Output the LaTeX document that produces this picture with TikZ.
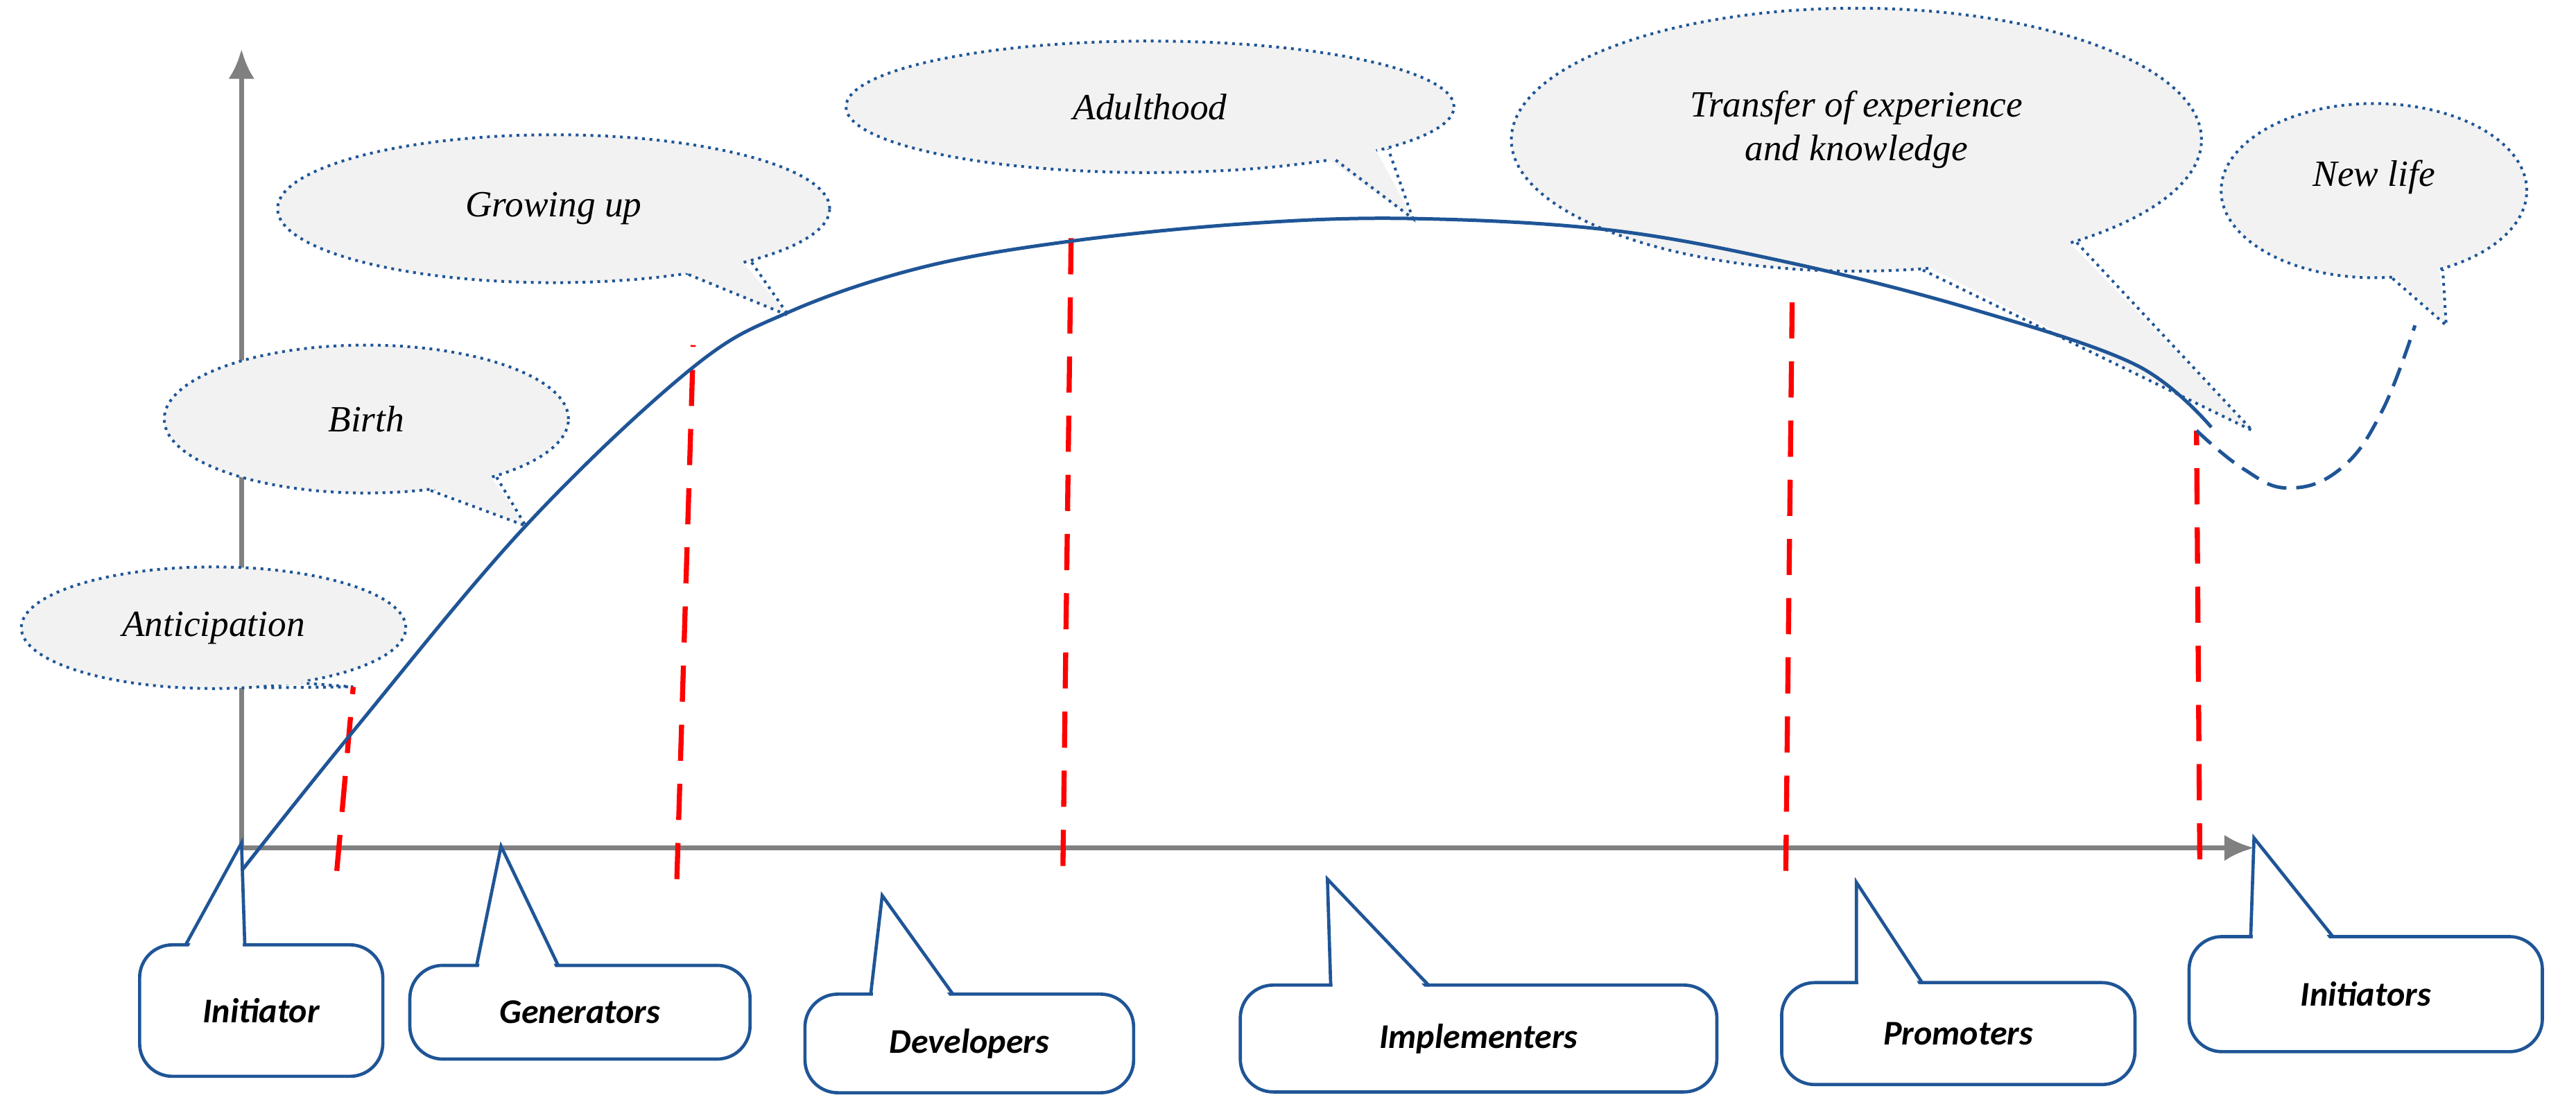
\documentclass[tikz,border=0pt]{standalone}
\usepackage{fontspec}
\setmainfont{Liberation Serif}
\newfontfamily\callfont{Carlito}
\usetikzlibrary{shapes.geometric,calc,arrows.meta}
\definecolor{cblue}{HTML}{1F5596}
\definecolor{bfill}{HTML}{F2F2F2}
\definecolor{axgray}{HTML}{808080}
\begin{document}
\begin{tikzpicture}[x=0.025cm,y=-0.025cm,
  bub/.style={ellipse,fill=bfill,draw=cblue,dotted,line width=1.2pt,inner sep=0pt},
  btext/.style={font=\itshape\fontsize{16}{19}\selectfont,align=center},
  tailline/.style={draw=cblue,dotted,line width=1.2pt},
  call/.style={rectangle,rounded corners=0.5cm,draw=cblue,line width=1.4pt,fill=white,font=\callfont\bfseries\itshape\fontsize{15}{18}\selectfont},
  red/.style={draw=red,line width=2.2pt,dash pattern=on 0.55cm off 0.35cm},
  curve/.style={draw=cblue,line width=1.5pt}]
\useasboundingbox (0,0) rectangle (1568,680);
% axes
\draw[axgray,line width=2.2pt,-{Latex[length=0.45cm,width=0.4cm]}] (147,516) -- (147,30);
\draw[axgray,line width=2.2pt,-{Latex[length=0.45cm,width=0.4cm,open,fill=axgray]}] (147,516) -- (1372,516);
% bubbles
\node[bub,minimum width=5.85cm,minimum height=1.85cm] (ant) at (130,382) {};
\node[bub,minimum width=6.15cm,minimum height=2.25cm] (birth) at (223,255) {};
\node[bub,minimum width=8.4cm,minimum height=2.25cm] (grow) at (337,127) {};
\node[bub,minimum width=9.25cm,minimum height=2.0cm] (adult) at (700,65) {};
\node[bub,minimum width=10.5cm,minimum height=4.0cm] (trans) at (1130,85) {};
\node[bub,minimum width=4.65cm,minimum height=2.65cm] (newl) at (1445,116) {};
\coordinate (antT) at (215,418);
\coordinate (birthT) at (320,320);
\coordinate (growT) at (480,192);
\coordinate (adultT) at (860,133);
\coordinate (transT) at (1371,262);
\coordinate (newlT) at (1489,198);
\foreach \n/\a/\b in {ant/-50/-32,birth/-48/-24,grow/-26/-15,adult/-16/-10,trans/-63/-25,newl/-78/-49}{
  \fill[bfill] ($(\n.\a)!0.06!(\n.center)$) -- (\n T) -- ($(\n.\b)!0.06!(\n.center)$) -- (\n.center) -- cycle;
  \draw[tailline] (\n.\a) -- (\n T) -- (\n.\b);
}
\node[btext] (antx) at (ant.center) {Anticipation};
\node[btext] (birthx) at (birth.center) {Birth};
\node[btext] (growx) at (grow.center) {Growing up};
\node[btext] (adultx) at (adult.center) {Adulthood};
\node[btext] (transx) at ($(trans.center)+(0,-6)$) {Transfer of experience\\and knowledge};
\node[btext] (newlx) at ($(newl.center)+(0,-8)$) {New life};
% red dashed
\draw[red] (205,530) -- (215,418);
\draw[red] (412,535) -- (422,210);
\draw[red] (647,527) -- (652,143);
\draw[red] (1087,530) -- (1091,172);
\draw[red] (1339,523) -- (1337,262);
% curve
\draw[curve] plot[smooth,tension=0.6] coordinates {(147,530) (215,445) (320,320) (420,225) (480,190) (560,163) (650,147) (760,136) (860,133) (980,140) (1090,160) (1200,188) (1300,222) (1346,260)};
\draw[curve,dash pattern=on 0.3cm off 0.15cm] plot[smooth,tension=0.7] coordinates {(1337,262) (1365,285) (1393,297) (1425,285) (1450,250) (1470,198)};
% callouts
\node[call,minimum width=3.7cm,minimum height=2.0cm] (c1) at (159,615) {Initiator};
\node[call,minimum width=5.175cm,minimum height=1.425cm] (c2) at (353,616) {Generators};
\node[call,minimum width=5cm,minimum height=1.5cm] (c3) at (590,635) {Developers};
\node[call,minimum width=7.25cm,minimum height=1.625cm] (c4) at (900,632) {Implementers};
\node[call,minimum width=5.375cm,minimum height=1.55cm] (c5) at (1192,629) {Promoters};
\node[call,minimum width=5.375cm,minimum height=1.75cm] (c6) at (1440,605) {Initiators};
\coordinate (c1T) at (147,513); \coordinate (c1L) at (113,575); \coordinate (c1R) at (149,575);
\coordinate (c2T) at (305,515); \coordinate (c2L) at (290,588); \coordinate (c2R) at (340,588);
\coordinate (c3T) at (537,545); \coordinate (c3L) at (530,605); \coordinate (c3R) at (580,605);
\coordinate (c4T) at (808,535); \coordinate (c4L) at (810,600); \coordinate (c4R) at (870,600);
\coordinate (c5T) at (1130,537); \coordinate (c5L) at (1130,598); \coordinate (c5R) at (1170,598);
\coordinate (c6T) at (1372,510); \coordinate (c6L) at (1370,570); \coordinate (c6R) at (1420,570);
\foreach \n in {c1,c2,c3,c4,c5,c6}{
  \fill[white] ($(\n L)+(1.2,2.5)$) -- (\n T) -- ($(\n R)+(-1.2,2.5)$) -- cycle;
  \draw[cblue,line width=1.4pt,line join=miter] (\n L) -- (\n T) -- (\n R);
}
\end{tikzpicture}
\end{document}
